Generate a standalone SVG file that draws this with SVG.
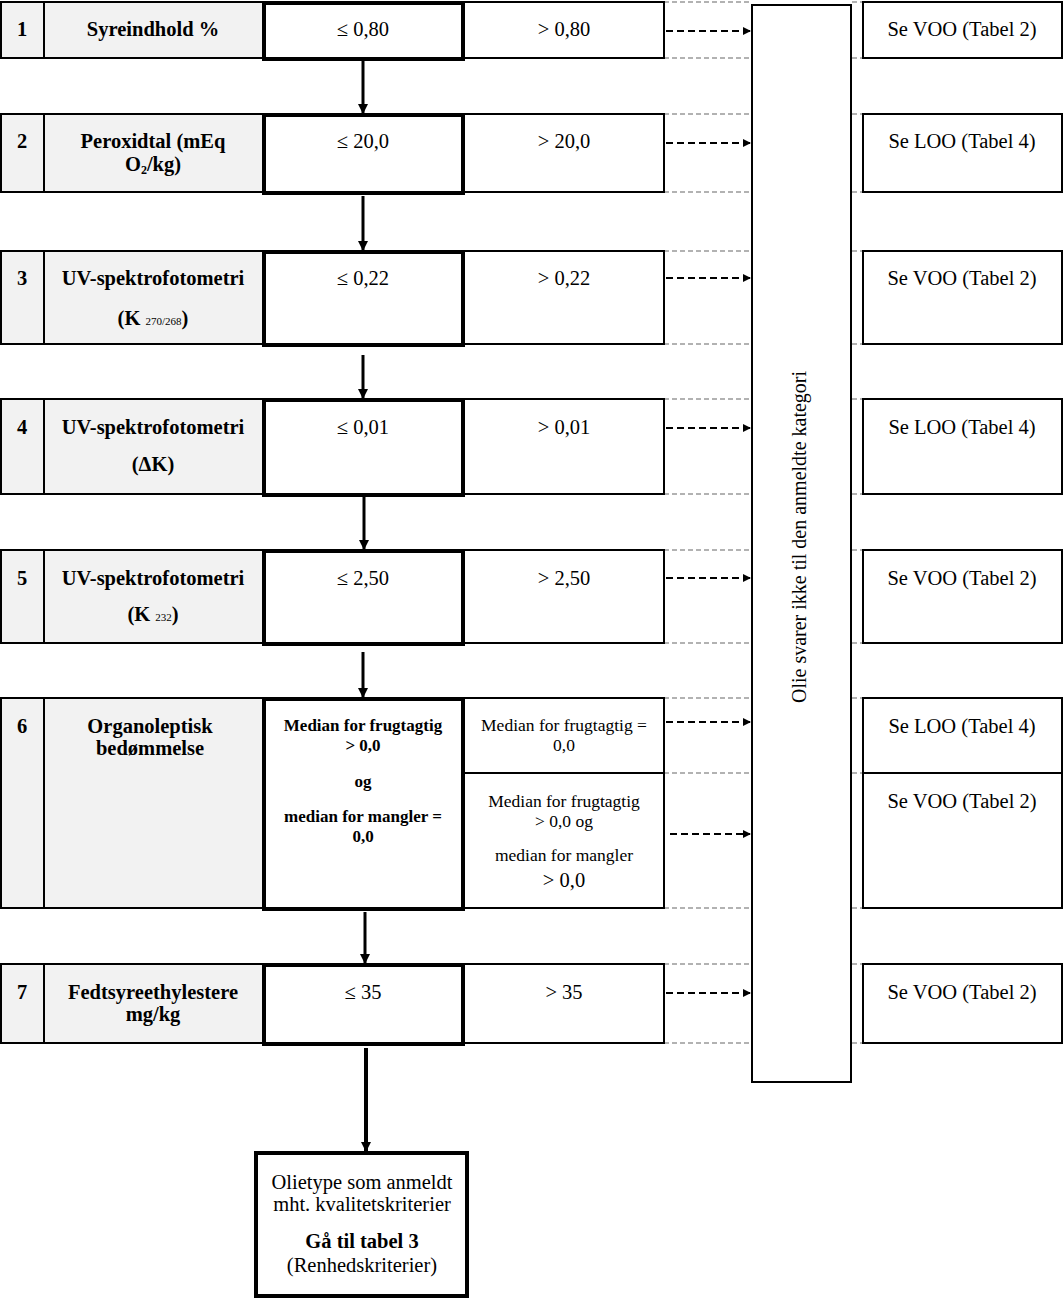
<svg xmlns="http://www.w3.org/2000/svg" width="1063" height="1298" viewBox="0 0 1063 1298">
<style>
text{font-family:"Liberation Serif","Times New Roman",serif;fill:#000;text-anchor:middle}
.t{font-size:20.5px}
.b{font-size:20.5px;font-weight:bold}
.s{font-size:17.5px}
.sb{font-size:17px;font-weight:bold}
.g{fill:#f2f2f2;stroke:#000;stroke-width:2}
.w{fill:#fff;stroke:#000;stroke-width:2}
.k{fill:#fff;stroke:#000;stroke-width:4}
.gd{stroke:#999;stroke-width:1.5;stroke-dasharray:5 3;fill:none}
.da{stroke:#000;stroke-width:2;stroke-dasharray:7 4;fill:none}
.va{stroke:#000;stroke-width:3;fill:none}
</style>
<defs>
<marker id="ah" markerWidth="8" markerHeight="8" refX="7" refY="4" orient="auto" markerUnits="userSpaceOnUse"><path d="M0,0 L8,4 L0,8 z" fill="#000"/></marker>
<marker id="vh" markerWidth="10" markerHeight="10" refX="9" refY="5" orient="auto" markerUnits="userSpaceOnUse"><path d="M0,0 L10,5 L0,10 z" fill="#000"/></marker>
</defs>

<g id="guides">
<path class="gd" d="M664,2H750M852,2H862M664,58H750M852,58H862
M664,114H750M852,114H862M664,192H750M852,192H862
M664,251H750M852,251H862M664,344H750M852,344H862
M664,399H750M852,399H862M664,494H750M852,494H862
M664,550H750M852,550H862M664,643H750M852,643H862
M664,698H750M852,698H862M664,773H750M852,773H862M664,908H750M852,908H862
M664,964H750M852,964H862M664,1043H750M852,1043H862"/>
</g>

<g id="category">
<rect x="752" y="5" width="99" height="1077" fill="#fff" stroke="#000" stroke-width="2"/>
<text class="t" font-size="20" transform="translate(806,537) rotate(-90)" style="font-size:20px">Olie svarer ikke til den anmeldte kategori</text>
</g>

<g id="row1">
<rect class="g" x="1" y="2" width="43" height="56"/>
<rect class="g" x="44" y="2" width="219" height="56"/>
<rect class="w" x="464" y="2" width="200" height="56"/>
<rect class="k" x="264" y="3" width="199" height="56"/>
<text class="b" x="22" y="36">1</text>
<text class="b" x="153" y="36">Syreindhold %</text>
<text class="t" x="363" y="36">≤ 0,80</text>
<text class="t" x="564" y="36">&gt; 0,80</text>
</g>
<g id="res1"><rect class="w" x="863" y="2" width="199" height="56"/><text class="t" x="962" y="36">Se VOO (Tabel 2)</text></g>

<g id="row2">
<rect class="g" x="1" y="114" width="43" height="78"/>
<rect class="g" x="44" y="114" width="219" height="78"/>
<rect class="w" x="464" y="114" width="200" height="78"/>
<rect class="k" x="264" y="115" width="199" height="78"/>
<text class="b" x="22" y="148">2</text>
<text class="b" x="153" y="148">Peroxidtal (mEq</text>
<text class="b" x="153" y="171">O<tspan font-size="12" dy="3">2</tspan><tspan dy="-3">/kg)</tspan></text>
<text class="t" x="363" y="148">≤ 20,0</text>
<text class="t" x="564" y="148">&gt; 20,0</text>
</g>
<g id="res2"><rect class="w" x="863" y="114" width="199" height="78"/><text class="t" x="962" y="148">Se LOO (Tabel 4)</text></g>

<g id="row3">
<rect class="g" x="1" y="251" width="43" height="93"/>
<rect class="g" x="44" y="251" width="219" height="93"/>
<rect class="w" x="464" y="251" width="200" height="93"/>
<rect class="k" x="264" y="252" width="199" height="93"/>
<text class="b" x="22" y="285">3</text>
<text class="b" x="153" y="285">UV-spektrofotometri</text>
<text class="b" x="153" y="325">(K <tspan font-size="11" font-weight="normal">270/268</tspan>)</text>
<text class="t" x="363" y="285">≤ 0,22</text>
<text class="t" x="564" y="285">&gt; 0,22</text>
</g>
<g id="res3"><rect class="w" x="863" y="251" width="199" height="93"/><text class="t" x="962" y="285">Se VOO (Tabel 2)</text></g>

<g id="row4">
<rect class="g" x="1" y="399" width="43" height="95"/>
<rect class="g" x="44" y="399" width="219" height="95"/>
<rect class="w" x="464" y="399" width="200" height="95"/>
<rect class="k" x="264" y="400" width="199" height="95"/>
<text class="b" x="22" y="434">4</text>
<text class="b" x="153" y="434">UV-spektrofotometri</text>
<text class="b" x="153" y="471">(ΔK)</text>
<text class="t" x="363" y="434">≤ 0,01</text>
<text class="t" x="564" y="434">&gt; 0,01</text>
</g>
<g id="res4"><rect class="w" x="863" y="399" width="199" height="95"/><text class="t" x="962" y="434">Se LOO (Tabel 4)</text></g>

<g id="row5">
<rect class="g" x="1" y="550" width="43" height="93"/>
<rect class="g" x="44" y="550" width="219" height="93"/>
<rect class="w" x="464" y="550" width="200" height="93"/>
<rect class="k" x="264" y="551" width="199" height="93"/>
<text class="b" x="22" y="585">5</text>
<text class="b" x="153" y="585">UV-spektrofotometri</text>
<text class="b" x="153" y="621">(K <tspan font-size="11" font-weight="normal">232</tspan>)</text>
<text class="t" x="363" y="585">≤ 2,50</text>
<text class="t" x="564" y="585">&gt; 2,50</text>
</g>
<g id="res5"><rect class="w" x="863" y="550" width="199" height="93"/><text class="t" x="962" y="585">Se VOO (Tabel 2)</text></g>

<g id="row6">
<rect class="g" x="1" y="698" width="43" height="210"/>
<rect class="g" x="44" y="698" width="219" height="210"/>
<rect class="w" x="464" y="698" width="200" height="75"/>
<rect class="w" x="464" y="773" width="200" height="135"/>
<rect class="k" x="264" y="699" width="199" height="210"/>
<text class="b" x="22" y="733">6</text>
<text class="b" x="150" y="733">Organoleptisk</text>
<text class="b" x="150" y="755">bedømmelse</text>
<text class="sb" x="363" y="731">Median for frugtagtig</text>
<text class="sb" x="363" y="751">&gt; 0,0</text>
<text class="sb" x="363" y="787">og</text>
<text class="sb" x="363" y="822">median for mangler =</text>
<text class="sb" x="363" y="842">0,0</text>
<text class="s" x="564" y="731">Median for frugtagtig =</text>
<text class="s" x="564" y="751">0,0</text>
<text class="s" x="564" y="807">Median for frugtagtig</text>
<text class="s" x="564" y="827">&gt; 0,0 og</text>
<text class="s" x="564" y="861">median for mangler</text>
<text class="t" x="564" y="887">&gt; 0,0</text>
</g>
<g id="res6a"><rect class="w" x="863" y="698" width="199" height="75"/><text class="t" x="962" y="733">Se LOO (Tabel 4)</text></g>
<g id="res6b"><rect class="w" x="863" y="773" width="199" height="135"/><text class="t" x="962" y="808">Se VOO (Tabel 2)</text></g>

<g id="row7">
<rect class="g" x="1" y="964" width="43" height="79"/>
<rect class="g" x="44" y="964" width="219" height="79"/>
<rect class="w" x="464" y="964" width="200" height="79"/>
<rect class="k" x="264" y="965" width="199" height="79"/>
<text class="b" x="22" y="999">7</text>
<text class="b" x="153" y="999">Fedtsyreethylestere</text>
<text class="b" x="153" y="1021">mg/kg</text>
<text class="t" x="363" y="999">≤ 35</text>
<text class="t" x="564" y="999">&gt; 35</text>
</g>
<g id="res7"><rect class="w" x="863" y="964" width="199" height="79"/><text class="t" x="962" y="999">Se VOO (Tabel 2)</text></g>

<g id="final">
<rect x="256" y="1153" width="211" height="143" fill="#fff" stroke="#000" stroke-width="4"/>
<text class="t" x="362" y="1189">Olietype som anmeldt</text>
<text class="t" x="362" y="1211">mht. kvalitetskriterier</text>
<text class="b" x="362" y="1248">Gå til tabel 3</text>
<text class="t" x="362" y="1272">(Renhedskriterier)</text>
</g>

<g id="connectors">
<path class="va" d="M363,61V113" marker-end="url(#vh)"/>
<path class="va" d="M363,196V250" marker-end="url(#vh)"/>
<path class="va" d="M363,355V398" marker-end="url(#vh)"/>
<path class="va" d="M364,497V549" marker-end="url(#vh)"/>
<path class="va" d="M363,652V697" stroke-width="2" marker-end="url(#vh)"/>
<path class="va" d="M365,912V963" marker-end="url(#vh)"/>
<path d="M366,1048V1151" stroke="#000" stroke-width="4" fill="none" marker-end="url(#vh)"/>
<path class="da" d="M666,31H750" marker-end="url(#ah)"/>
<path class="da" d="M666,143H750" marker-end="url(#ah)"/>
<path class="da" d="M666,278H750" marker-end="url(#ah)"/>
<path class="da" d="M666,428H750" marker-end="url(#ah)"/>
<path class="da" d="M666,578H750" marker-end="url(#ah)"/>
<path class="da" d="M666,722H750" marker-end="url(#ah)"/>
<path class="da" d="M670,834H750" marker-end="url(#ah)"/>
<path class="da" d="M666,993H750" marker-end="url(#ah)"/>
</g>
</svg>
